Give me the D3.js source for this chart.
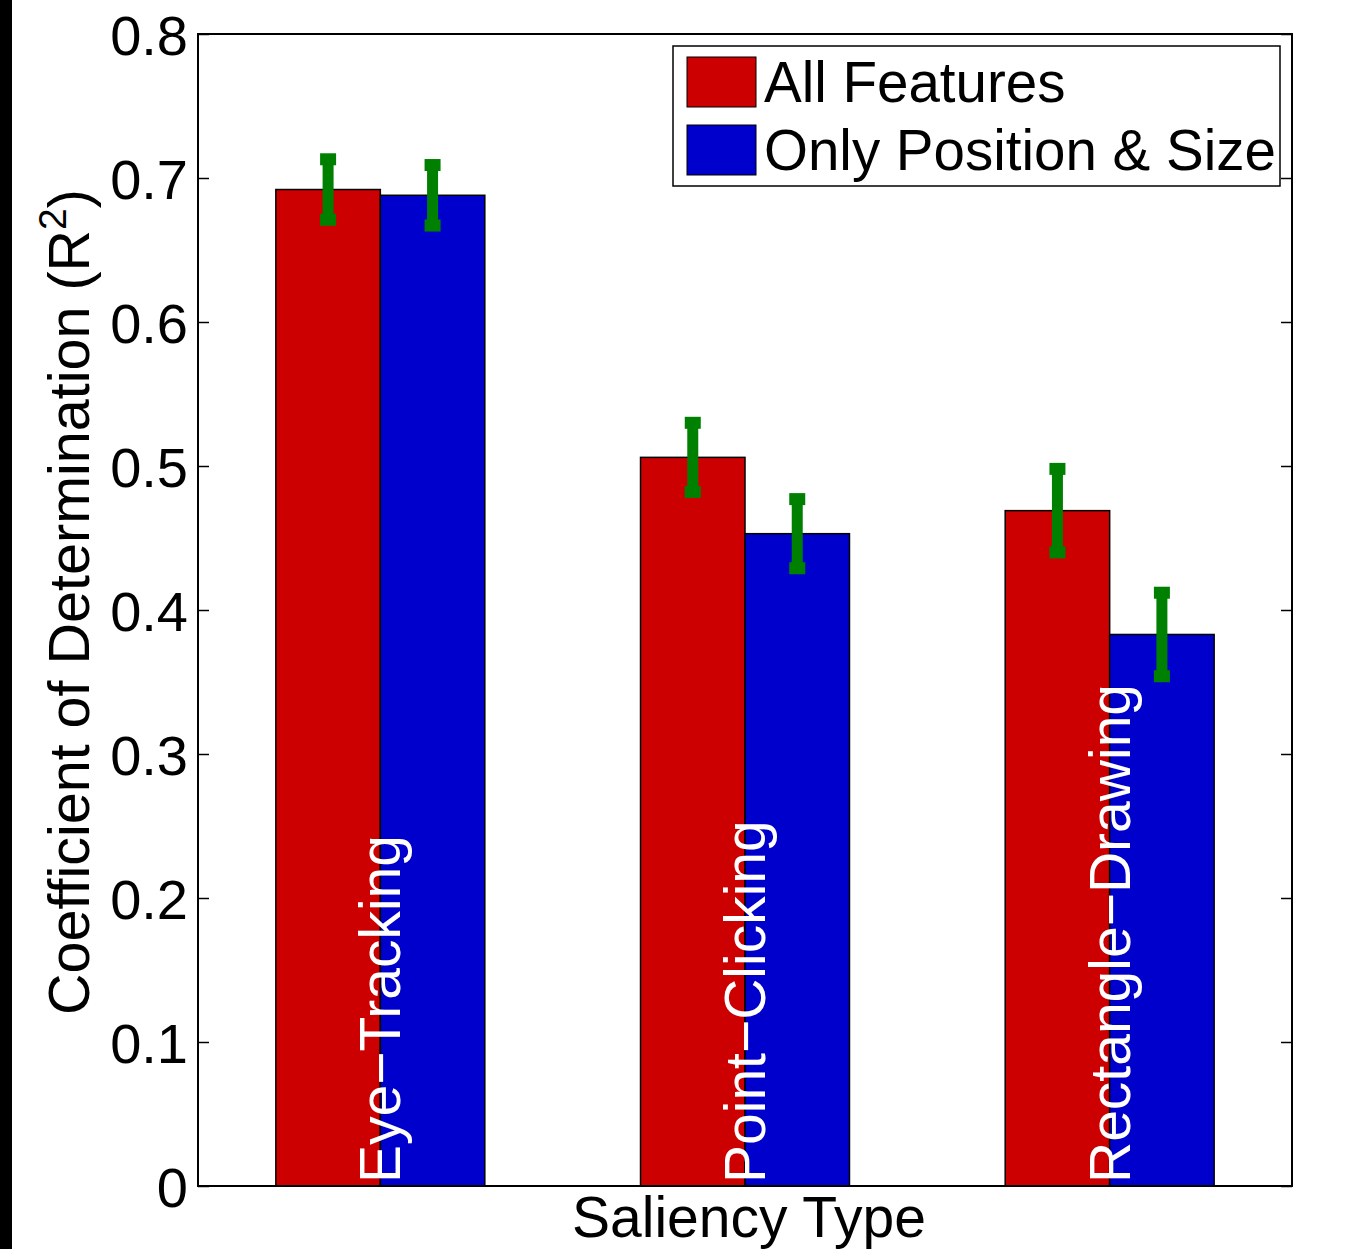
<!DOCTYPE html>
<html>
<head>
<meta charset="utf-8">
<script src="https://cdn.jsdelivr.net/npm/d3@7"></script>
<style>
  html, body { margin: 0; padding: 0; background: #fff; }
  svg { display: block; }
  text { font-family: "Liberation Sans", Arial, Helvetica, sans-serif; }
</style>
</head>
<body>
<svg id="chart" width="1356" height="1249"></svg>
<script>
// Saliency types shown as groups along the x axis
const categories = ["Eye\u2212Tracking", "Point\u2212Clicking", "Rectangle\u2212Drawing"];
// Series names (legend)
const seriesNames = ["All Features", "Only Position & Size"];
// R^2 per saliency type for each feature set
const allFeatures = [0.692, 0.506, 0.469];
const allFeaturesErr = [0.021, 0.024, 0.029];
const positionSize = [0.688, 0.453, 0.383];
const positionSizeErr = [0.021, 0.024, 0.029];
// Y axis ticks
const yTicks = [0, 0.1, 0.2, 0.3, 0.4, 0.5, 0.6, 0.7, 0.8];

const colors = ["#cc0000", "#0000cc"];
const errColor = "#008000";

const svg = d3.select("#chart");
const W = 1356, H = 1249;
const plot = { left: 198, right: 1292, top: 34, bottom: 1186 };

// dark strip along the left edge
svg.append("rect").attr("x", 0).attr("y", 0).attr("width", 12).attr("height", H).attr("fill", "#000");

const x = d3.scaleLinear().domain([0.5, categories.length + 0.5]).range([plot.left, plot.right]);
const y = d3.scaleLinear().domain([0, 0.8]).range([plot.bottom, plot.top]);

const barW = x(1.2865) - x(1);

const series = [
  { name: seriesNames[0], values: allFeatures, errs: allFeaturesErr, color: colors[0], offset: -1 },
  { name: seriesNames[1], values: positionSize, errs: positionSizeErr, color: colors[1], offset: 0 }
];

// bars
series.forEach(s => {
  svg.append("g").selectAll("rect")
    .data(s.values)
    .join("rect")
    .attr("x", (d, i) => x(i + 1) + s.offset * barW)
    .attr("y", d => y(d))
    .attr("width", barW)
    .attr("height", d => y(0) - y(d))
    .attr("fill", s.color)
    .attr("stroke", "#000")
    .attr("stroke-width", 1.5);
});

// rotated category labels inside bars
svg.append("g").selectAll("text")
  .data(categories)
  .join("text")
  .attr("transform", (d, i) => `translate(${x(i + 1) + 20},${plot.bottom - 3}) rotate(-90)`)
  .attr("text-anchor", "start")
  .attr("fill", "#fff")
  .attr("font-size", 57)
  .text(d => d);

// error bars
series.forEach(s => {
  const g = svg.append("g");
  s.values.forEach((v, i) => {
    const cx = x(i + 1) + s.offset * barW + barW / 2;
    const lo = v - s.errs[i], hi = v + s.errs[i];
    g.append("line")
      .attr("x1", cx).attr("x2", cx)
      .attr("y1", y(lo)).attr("y2", y(hi))
      .attr("stroke", errColor).attr("stroke-width", 11);
    [lo, hi].forEach(e => {
      g.append("rect")
        .attr("x", cx - 8).attr("y", y(e) - 6)
        .attr("width", 16).attr("height", 12)
        .attr("fill", errColor);
    });
  });
});

// axes box
svg.append("rect")
  .attr("x", plot.left).attr("y", plot.top)
  .attr("width", plot.right - plot.left).attr("height", plot.bottom - plot.top)
  .attr("fill", "none").attr("stroke", "#000").attr("stroke-width", 2);

// left axis: inward ticks, labels outside
const yAxisL = d3.axisLeft(y).tickValues(yTicks).tickSize(-11).tickPadding(10)
  .tickFormat(d => d === 0 ? "0" : d3.format(".1f")(d));
const gl = svg.append("g").attr("transform", `translate(${plot.left},0)`).call(yAxisL);
gl.select(".domain").remove();
gl.selectAll(".tick line").attr("stroke", "#000").attr("stroke-width", 1.5);
gl.selectAll(".tick text")
  .attr("font-size", 56).attr("fill", "#000")
  .attr("font-family", '"Liberation Sans", Arial, sans-serif')
  .attr("dy", "0.36em");

// right axis: inward ticks only
const yAxisR = d3.axisRight(y).tickValues(yTicks).tickSize(-11).tickFormat("");
const gr = svg.append("g").attr("transform", `translate(${plot.right},0)`).call(yAxisR);
gr.select(".domain").remove();
gr.selectAll(".tick line").attr("stroke", "#000").attr("stroke-width", 1.5);

// x axis title
svg.append("text")
  .attr("x", (plot.left + plot.right) / 2 + 4)
  .attr("y", 1237)
  .attr("text-anchor", "middle")
  .attr("font-size", 57)
  .attr("fill", "#000")
  .text("Saliency Type");

// y axis title with superscript
const yt = svg.append("text")
  .attr("transform", `translate(89,${(plot.top + plot.bottom) / 2 - 8}) rotate(-90)`)
  .attr("text-anchor", "middle")
  .attr("font-size", 57.5)
  .attr("fill", "#000");
yt.append("tspan").text("Coefficient of Determination (R");
yt.append("tspan").attr("font-size", 39).attr("dy", -23).text("2");
yt.append("tspan").attr("dy", 23).text(")");

// legend
const lg = svg.append("g");
lg.append("rect")
  .attr("x", 673).attr("y", 46).attr("width", 607).attr("height", 140)
  .attr("fill", "#fff").attr("stroke", "#000").attr("stroke-width", 1.5);
series.forEach((s, i) => {
  const yy = 57 + i * 68;
  lg.append("rect")
    .attr("x", 687).attr("y", yy).attr("width", 69).attr("height", 50)
    .attr("fill", s.color).attr("stroke", "#000").attr("stroke-width", 1);
  lg.append("text")
    .attr("x", 764).attr("y", yy + 45)
    .attr("font-size", 56.5).attr("fill", "#000")
    .text(s.name);
});
</script>
</body>
</html>
